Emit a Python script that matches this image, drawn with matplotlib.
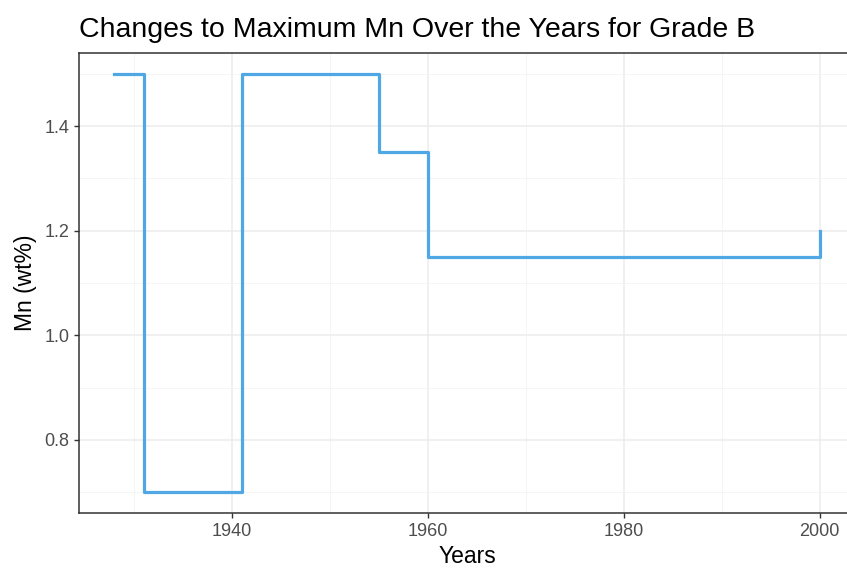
import matplotlib
matplotlib.use('Agg')
import matplotlib.pyplot as plt
from matplotlib.ticker import MultipleLocator

plt.rcParams['font.family'] = ['Liberation Sans', 'DejaVu Sans']

years = [1928, 1931, 1941, 1955, 1960, 2000]
mn_max = [1.5, 0.7, 1.5, 1.35, 1.15, 1.2]

fig = plt.figure(figsize=(8.47, 5.70), dpi=100)
ax = fig.add_axes([79/847, 57/570, 776/847, 460/570])

# ggplot theme_bw look
ax.set_xlim(1924.4, 2003.6)
ax.set_ylim(0.66, 1.54)
ax.xaxis.set_major_locator(MultipleLocator(20))
ax.xaxis.set_minor_locator(MultipleLocator(10))
ax.yaxis.set_major_locator(MultipleLocator(0.2))
ax.yaxis.set_minor_locator(MultipleLocator(0.1))
ax.grid(which='major', color='#ececec', linewidth=1.1)
ax.grid(which='minor', color='#f4f4f4', linewidth=0.6)
ax.set_axisbelow(True)
for s in ax.spines.values():
    s.set_color('#333333')
    s.set_linewidth(1.1)
ax.tick_params(which='major', length=3.5, width=1, color='#333333',
               labelsize=13, labelcolor='#4d4d4d')
ax.tick_params(which='minor', length=0)
ax.yaxis.set_major_formatter(plt.FuncFormatter(lambda v, p: f'{v:.1f}'))

ax.step(years, mn_max, where='post', color='#4fa8e3', linewidth=2.3)

ax.set_xlabel('Years', fontsize=16.5, labelpad=4)
ax.set_ylabel('Mn (wt%)', fontsize=16.5, labelpad=5)
ax.set_title('Changes to Maximum Mn Over the Years for Grade B',
             fontsize=20.5, loc='left', x=0.0, pad=11.5)

fig.savefig('out.png', dpi=100)
